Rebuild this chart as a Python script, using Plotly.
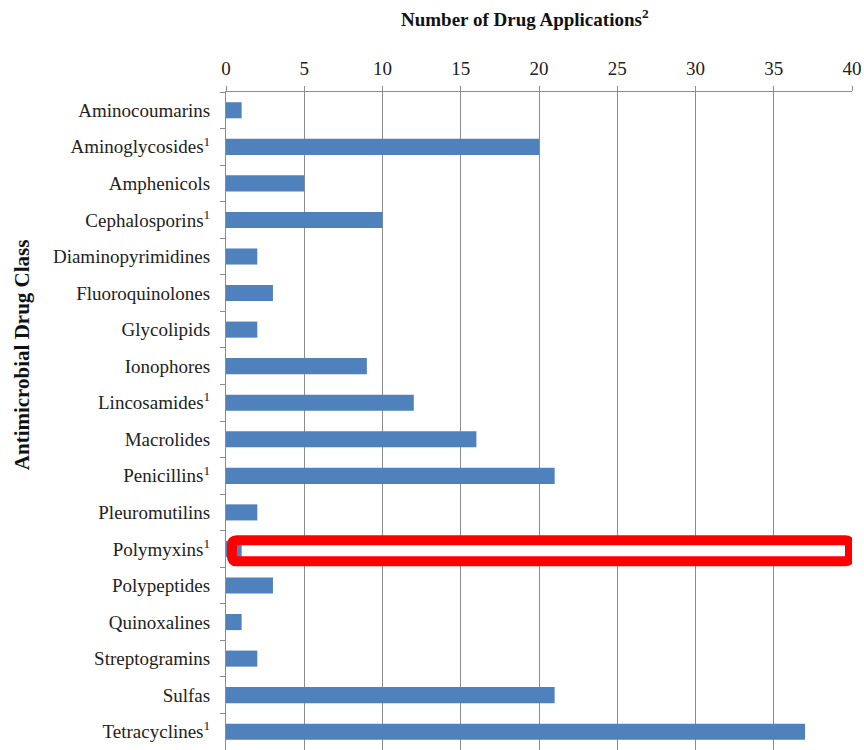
import plotly.graph_objects as go

# Antimicrobial drug classes and number of drug applications
classes = [
    "Aminocoumarins", "Aminoglycosides<sup>1</sup>", "Amphenicols",
    "Cephalosporins<sup>1</sup>", "Diaminopyrimidines", "Fluoroquinolones",
    "Glycolipids", "Ionophores", "Lincosamides<sup>1</sup>", "Macrolides",
    "Penicillins<sup>1</sup>", "Pleuromutilins", "Polymyxins<sup>1</sup>",
    "Polypeptides", "Quinoxalines", "Streptogramins", "Sulfas",
    "Tetracyclines<sup>1</sup>",
]
applications = [1, 20, 5, 10, 2, 3, 2, 9, 12, 16, 21, 2, 1, 3, 1, 2, 21, 37]
x_ticks = [0, 5, 10, 15, 20, 25, 30, 35, 40]

highlight = "Polymyxins<sup>1</sup>"

FONT = "Liberation Serif, Times New Roman, serif"
BLUE = "#4F81BD"
AXIS_GREY = "#8c8c8c"

fig = go.Figure(
    go.Bar(
        x=applications,
        y=classes,
        orientation="h",
        width=0.44,
        marker=dict(color=BLUE, line=dict(width=0)),
        hoverinfo="x+y",
    )
)

n = len(classes)
fig.update_layout(
    width=864,
    height=750,
    margin=dict(l=226, r=12, t=92, b=0),
    paper_bgcolor="white",
    plot_bgcolor="white",
    showlegend=False,
    font=dict(family=FONT, color="#222222"),
)

fig.update_xaxes(
    side="top",
    range=[0, 40],
    tickvals=x_ticks,
    ticktext=[str(v) for v in x_ticks],
    tickfont=dict(size=19, family=FONT, color="#222222"),
    showgrid=True,
    gridcolor=AXIS_GREY,
    gridwidth=1,
    zeroline=False,
    showline=True,
    linecolor=AXIS_GREY,
    linewidth=1,
    ticks="outside",
    ticklen=5,
    tickcolor=AXIS_GREY,
    ticklabelstandoff=3,
    fixedrange=True,
)

fig.update_yaxes(
    categoryorder="array",
    categoryarray=classes,
    autorange=False,
    range=[n - 0.5, -0.5],
    tickfont=dict(size=19, family=FONT, color="#222222"),
    showgrid=False,
    showline=True,
    linecolor=AXIS_GREY,
    linewidth=1,
    ticks="outside",
    tickson="boundaries",
    ticklen=5,
    tickcolor=AXIS_GREY,
    ticklabelstandoff=11,
    fixedrange=True,
)

# Highlight box around the Polymyxins row: white fill under the bar,
# thick red rounded outline on top
idx = classes.index(highlight)
x0, x1 = 0.38, 39.87
y0, y1 = idx - 0.24, idx + 0.34
r_x, r_y = 0.3, 0.13


def rounded_rect(a0, a1, b0, b1, rx, ry):
    return (
        f"M {a0 + rx},{b0} L {a1 - rx},{b0} "
        f"Q {a1},{b0} {a1},{b0 + ry} L {a1},{b1 - ry} "
        f"Q {a1},{b1} {a1 - rx},{b1} L {a0 + rx},{b1} "
        f"Q {a0},{b1} {a0},{b1 - ry} L {a0},{b0 + ry} "
        f"Q {a0},{b0} {a0 + rx},{b0} Z"
    )


box = rounded_rect(x0, x1, y0, y1, r_x, r_y)
fig.add_shape(
    type="path", path=box, xref="x", yref="y",
    fillcolor="white", line=dict(width=0), layer="between",
)
fig.add_shape(
    type="path", path=box, xref="x", yref="y",
    fillcolor="rgba(0,0,0,0)", line=dict(color="#FF0000", width=10),
    layer="above",
)

# Axis titles
fig.add_annotation(
    text="<b>Number of Drug Applications<sup>2</sup></b>",
    xref="paper", yref="paper",
    x=0.477, y=1.0, yshift=74,
    xanchor="center", yanchor="middle",
    showarrow=False,
    font=dict(size=19, family=FONT, color="#111111"),
)
fig.add_annotation(
    text="<b>Antimicrobial Drug Class</b>",
    xref="paper", yref="paper",
    x=0, xshift=-204,
    y=0.600,
    xanchor="center", yanchor="middle",
    textangle=-90,
    showarrow=False,
    font=dict(size=21, family=FONT, color="#111111"),
)

fig.write_html("out.html")
